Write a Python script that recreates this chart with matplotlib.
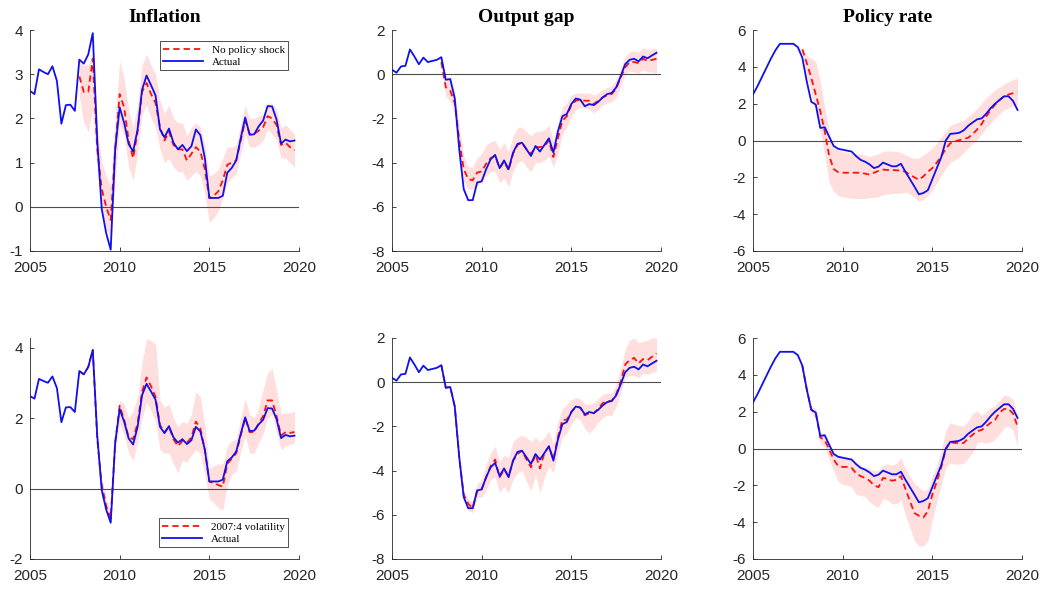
import numpy as np
import matplotlib.pyplot as plt

plt.rcParams['axes.unicode_minus'] = False

quarters = 2005 + np.arange(60) / 4
cf_quarters = quarters[11:]  # counterfactuals start 2007:4

# actual series, 2005Q1-2019Q4
inflation_actual = [2.62, 2.55, 3.11, 3.05, 3.00, 3.18, 2.85, 1.88, 2.30, 2.31, 2.17, 3.33,
                    3.24, 3.45, 3.93, 1.50, -0.05, -0.60, -0.97, 1.30, 2.25, 1.90, 1.42, 1.25,
                    1.75, 2.65, 2.97, 2.75, 2.52, 1.75, 1.57, 1.77, 1.45, 1.30, 1.40, 1.26,
                    1.37, 1.75, 1.62, 1.10, 0.20, 0.20, 0.20, 0.25, 0.77, 0.88, 1.05, 1.55,
                    2.02, 1.63, 1.64, 1.82, 1.95, 2.28, 2.27, 1.97, 1.43, 1.52, 1.48, 1.50]
output_actual = [0.20, 0.07, 0.35, 0.38, 1.12, 0.80, 0.45, 0.75, 0.55, 0.60, 0.65, 0.77,
                 -0.25, -0.22, -1.10, -3.40, -5.20, -5.70, -5.70, -4.90, -4.85, -4.30, -3.85, -3.65,
                 -4.25, -3.90, -4.30, -3.55, -3.15, -3.10, -3.40, -3.70, -3.25, -3.50, -3.20, -2.90,
                 -3.55, -2.60, -1.90, -1.80, -1.35, -1.10, -1.15, -1.45, -1.35, -1.40, -1.25, -1.05,
                 -0.90, -0.85, -0.60, -0.10, 0.45, 0.65, 0.70, 0.58, 0.80, 0.72, 0.85, 0.97]
policy_actual = [2.50, 2.95, 3.45, 3.95, 4.45, 4.90, 5.25, 5.25, 5.25, 5.25, 5.07, 4.50,
                 3.20, 2.10, 1.95, 0.68, 0.72, 0.20, -0.30, -0.45, -0.50, -0.55, -0.60, -0.85,
                 -1.05, -1.15, -1.30, -1.50, -1.42, -1.20, -1.30, -1.40, -1.40, -1.26, -1.70, -2.10,
                 -2.50, -2.92, -2.85, -2.70, -2.10, -1.50, -0.90, 0.00, 0.36, 0.38, 0.42, 0.55,
                 0.80, 0.98, 1.15, 1.20, 1.45, 1.75, 2.00, 2.20, 2.40, 2.40, 2.15, 1.66]

# no policy shock, 2007Q4-2019Q4
infl_noshock = [2.95, 2.60, 2.60, 3.35, 1.30, 0.40, 0.00, -0.30, 1.30, 2.55, 2.25, 1.50, 1.10,
                1.70, 2.60, 2.80, 2.55, 2.35, 1.80, 1.50, 1.70, 1.40, 1.30, 1.30, 1.05,
                1.20, 1.35, 1.25, 0.85, 0.20, 0.25, 0.35, 0.60, 0.95, 1.00, 1.05, 1.50,
                1.95, 1.65, 1.65, 1.72, 1.80, 2.05, 2.00, 1.85, 1.40, 1.45, 1.35, 1.28]
infl_noshock_hi = [3.30, 3.20, 3.20, 3.50, 1.80, 1.00, 0.70, 0.50, 2.00, 3.30, 2.90, 2.20, 1.80,
                   2.30, 3.20, 3.45, 3.20, 3.00, 2.40, 2.10, 2.30, 2.00, 1.90, 1.90, 1.60,
                   1.80, 1.90, 1.80, 1.40, 0.70, 0.75, 0.85, 1.10, 1.35, 1.35, 1.40, 1.85,
                   2.30, 2.00, 2.00, 2.05, 2.10, 2.35, 2.35, 2.20, 1.80, 1.85, 1.75, 1.65]
infl_noshock_lo = [2.50, 1.90, 1.70, 2.20, 0.80, -0.10, -0.50, -0.70, 0.60, 1.90, 1.60, 0.90, 0.60,
                   1.20, 2.10, 2.30, 2.00, 1.80, 1.30, 1.00, 1.10, 0.90, 0.80, 0.80, 0.60,
                   0.70, 0.80, 0.70, 0.30, -0.35, -0.25, -0.10, 0.20, 0.55, 0.65, 0.75, 1.20,
                   1.65, 1.35, 1.35, 1.40, 1.50, 1.75, 1.65, 1.50, 1.10, 1.10, 1.00, 0.90]

gap_noshock = [0.55, -0.60, -0.75, -1.30, -3.00, -4.30, -4.75, -4.80, -4.45, -4.40, -4.05, -3.80, -3.70,
               -4.25, -3.95, -4.35, -3.60, -3.20, -3.10, -3.40, -3.60, -3.30, -3.30, -3.25, -3.00,
               -3.75, -2.90, -2.10, -1.90, -1.40, -1.20, -1.15, -1.20, -1.20, -1.35, -1.20, -1.05,
               -0.95, -0.90, -0.65, -0.15, 0.30, 0.55, 0.55, 0.50, 0.70, 0.60, 0.65, 0.70]
gap_noshock_hi = [0.85, -0.20, -0.30, -0.80, -2.40, -3.70, -4.20, -4.20, -3.80, -3.60, -3.20, -3.05, -3.00,
                  -3.40, -3.10, -3.50, -2.80, -2.40, -2.40, -2.60, -2.80, -2.60, -2.60, -2.50, -2.30,
                  -3.00, -2.20, -1.50, -1.30, -0.95, -0.85, -0.85, -0.85, -0.85, -0.95, -0.85, -0.70,
                  -0.60, -0.55, -0.25, 0.25, 0.80, 1.00, 1.05, 1.00, 1.20, 1.10, 1.15, 1.15]
gap_noshock_lo = [0.30, -1.00, -1.20, -1.80, -3.60, -4.90, -5.20, -5.20, -5.00, -4.90, -4.60, -4.40, -4.40,
                  -4.90, -4.70, -5.10, -4.40, -4.00, -3.90, -4.20, -4.40, -4.00, -4.00, -3.90, -3.70,
                  -4.20, -3.60, -2.70, -2.40, -1.90, -1.60, -1.50, -1.55, -1.60, -1.75, -1.60, -1.40,
                  -1.30, -1.25, -1.05, -0.55, 0.00, 0.15, 0.10, 0.05, 0.20, 0.10, 0.10, 0.05]

rate_noshock = [4.95, 4.20, 3.40, 2.50, 1.60, 0.50, -0.85, -1.55, -1.72, -1.75, -1.75, -1.75, -1.75,
                -1.75, -1.80, -1.85, -1.75, -1.65, -1.58, -1.60, -1.60, -1.62, -1.63, -1.70, -1.86,
                -2.00, -2.13, -1.95, -1.70, -1.50, -1.20, -0.85, -0.45, -0.15, -0.05, 0.02, 0.08,
                0.15, 0.35, 0.60, 0.90, 1.30, 1.65, 1.95, 2.20, 2.40, 2.50, 2.57, 2.60]
rate_noshock_hi = [5.10, 4.60, 4.45, 4.30, 3.20, 1.80, 0.50, -0.40, -0.50, -0.60, -0.65, -0.70, -0.72,
                   -0.73, -0.80, -0.87, -0.80, -0.73, -0.60, -0.56, -0.58, -0.60, -0.65, -0.78, -0.90,
                   -0.96, -0.95, -0.80, -0.60, -0.40, -0.15, 0.20, 0.50, 0.80, 0.94, 1.00, 1.10,
                   1.30, 1.50, 1.75, 2.03, 2.30, 2.54, 2.75, 2.90, 3.05, 3.20, 3.30, 3.40]
rate_noshock_lo = [4.80, 3.50, 2.60, 1.60, 0.50, -0.80, -2.30, -2.75, -3.00, -3.05, -3.10, -3.15, -3.15,
                   -3.15, -3.15, -3.10, -3.10, -3.05, -2.95, -2.90, -2.88, -2.87, -2.85, -2.80, -2.90,
                   -3.10, -3.30, -3.20, -3.00, -2.70, -2.30, -1.90, -1.50, -1.20, -1.05, -0.90, -0.65,
                   -0.40, -0.15, 0.05, 0.35, 0.67, 0.95, 1.20, 1.45, 1.67, 1.78, 1.85, 1.95]

# 2007:4 volatility, 2007Q4-2019Q4
infl_vol = [3.33, 3.24, 3.45, 3.93, 1.40, 0.10, -0.50, -0.85, 1.30, 2.35, 1.95, 1.45, 1.40,
            1.85, 2.75, 3.15, 2.90, 2.60, 1.80, 1.60, 1.75, 1.40, 1.20, 1.35, 1.30,
            1.45, 1.90, 1.70, 1.10, 0.20, 0.15, 0.10, 0.05, 0.70, 0.85, 1.00, 1.50,
            2.00, 1.60, 1.60, 1.85, 2.05, 2.50, 2.50, 2.05, 1.50, 1.60, 1.58, 1.60]
infl_vol_hi = [3.33, 3.24, 3.45, 3.93, 1.50, 0.30, -0.30, -0.70, 1.50, 2.50, 2.40, 2.00, 2.20,
               2.60, 3.60, 4.25, 4.20, 4.10, 2.50, 2.30, 2.40, 2.00, 1.75, 1.90, 1.85,
               2.10, 2.75, 2.60, 1.80, 0.55, 0.65, 0.70, 0.70, 1.20, 1.35, 1.40, 2.00,
               2.55, 2.10, 2.00, 2.30, 2.80, 3.30, 3.40, 2.80, 2.10, 2.15, 2.15, 2.20]
infl_vol_lo = [3.33, 3.24, 3.45, 3.93, 1.30, -0.10, -0.70, -1.00, 1.10, 1.85, 1.50, 1.00, 0.80,
               1.30, 2.00, 2.45, 2.20, 1.90, 1.10, 1.00, 1.00, 0.70, 0.45, 0.80, 0.75,
               0.95, 1.10, 1.00, 0.40, -0.30, -0.40, -0.55, -0.60, 0.10, 0.40, 0.50, 1.05,
               1.50, 1.00, 1.00, 1.30, 1.55, 2.00, 2.10, 1.60, 1.10, 1.20, 1.25, 1.30]

gap_vol = [0.77, -0.25, -0.22, -1.10, -3.40, -5.10, -5.50, -5.70, -4.90, -4.85, -4.30, -3.80, -3.50,
           -4.30, -3.95, -4.25, -3.55, -3.25, -3.10, -3.50, -3.85, -3.25, -3.90, -3.20, -2.90,
           -3.50, -2.50, -1.70, -1.70, -1.35, -1.10, -1.15, -1.50, -1.40, -1.40, -1.20, -0.95,
           -0.85, -0.85, -0.55, 0.00, 0.80, 1.00, 1.10, 0.85, 1.05, 1.00, 1.15, 1.30]
gap_vol_hi = [0.77, -0.25, -0.22, -1.10, -3.30, -4.90, -5.30, -5.40, -4.60, -4.40, -3.70, -3.20, -2.90,
              -3.60, -3.30, -3.40, -2.70, -2.50, -2.40, -2.50, -2.70, -2.50, -2.70, -2.50, -2.20,
              -2.80, -1.80, -1.20, -1.00, -0.80, -0.70, -0.75, -1.00, -1.00, -0.95, -0.75, -0.55,
              -0.50, -0.50, -0.10, 0.60, 1.50, 1.90, 2.00, 1.80, 1.85, 1.90, 2.00, 2.00]
gap_vol_lo = [0.77, -0.25, -0.22, -1.10, -3.50, -5.30, -5.80, -5.90, -5.20, -5.20, -4.90, -4.40, -4.30,
              -5.00, -4.70, -5.00, -4.40, -4.10, -4.00, -4.50, -4.90, -4.20, -5.00, -4.30, -3.80,
              -4.10, -3.20, -2.50, -2.30, -1.90, -1.60, -1.70, -2.10, -2.30, -2.10, -1.80, -1.60,
              -1.50, -1.50, -1.10, -0.50, 0.20, 0.30, 0.30, 0.20, 0.40, 0.35, 0.45, 0.50]

rate_vol = [4.50, 3.20, 2.10, 1.95, 0.60, 0.45, -0.05, -0.60, -0.95, -1.00, -1.00, -1.05, -1.35,
            -1.50, -1.60, -1.75, -2.00, -2.10, -1.60, -1.65, -1.75, -1.70, -1.50, -2.20, -2.85,
            -3.50, -3.65, -3.75, -3.40, -2.50, -1.80, -1.00, -0.05, 0.35, 0.30, 0.30, 0.30,
            0.55, 0.75, 0.95, 1.00, 1.20, 1.40, 1.55, 1.95, 2.15, 2.15, 1.90, 1.20]
rate_vol_hi = [4.50, 3.20, 2.30, 2.15, 0.90, 0.80, 0.20, -0.20, -0.35, -0.45, -0.50, -0.60, -0.80,
               -0.95, -1.00, -1.10, -1.20, -1.20, -0.90, -0.85, -0.90, -0.80, -0.50, -1.10, -1.50,
               -1.90, -2.10, -2.30, -2.20, -1.50, -0.90, -0.10, 1.00, 1.40, 1.30, 1.25, 1.20,
               1.50, 1.90, 2.05, 1.80, 2.00, 2.20, 2.35, 2.60, 2.90, 2.85, 2.65, 1.80]
rate_vol_lo = [4.50, 3.20, 1.90, 1.60, 0.30, 0.10, -0.60, -1.20, -1.80, -1.95, -2.00, -2.10, -2.50,
               -2.55, -2.60, -2.90, -3.10, -3.20, -2.70, -2.80, -3.00, -3.00, -2.80, -3.60, -4.30,
               -5.00, -5.30, -5.30, -5.00, -3.90, -2.90, -2.00, -1.00, -0.80, -0.85, -0.85, -0.80,
               -0.50, -0.20, 0.30, 0.35, 0.30, 0.35, 0.50, 0.80, 1.15, 1.20, 1.00, 0.10]

titles = ['Inflation', 'Output gap', 'Policy rate']
actuals = [inflation_actual, output_actual, policy_actual]
scenarios = [
    ('No policy shock', [(infl_noshock, infl_noshock_lo, infl_noshock_hi),
                         (gap_noshock, gap_noshock_lo, gap_noshock_hi),
                         (rate_noshock, rate_noshock_lo, rate_noshock_hi)]),
    ('2007:4 volatility', [(infl_vol, infl_vol_lo, infl_vol_hi),
                           (gap_vol, gap_vol_lo, gap_vol_hi),
                           (rate_vol, rate_vol_lo, rate_vol_hi)]),
]
ylims = [[(-1, 4), (-8, 2), (-6, 6)], [(-2, 4.27), (-8, 2), (-6, 6)]]
yticks = [[range(-1, 5), range(-8, 3, 2), range(-6, 7, 2)],
          [range(-2, 5, 2), range(-8, 3, 2), range(-6, 7, 2)]]

W, H = 1045, 589
lefts = [30, 392, 753]
tops = [30, 338]

fig = plt.figure(figsize=(W / 100, H / 100), dpi=100)

for r, (label, series) in enumerate(scenarios):
    for c in range(3):
        ax = fig.add_axes([lefts[c] / W, 1 - (tops[r] + 221) / H, 269 / W, 221 / H])
        mid, lo, hi = series[c]
        ax.fill_between(cf_quarters, lo, hi, color=(1.0, 0.87, 0.87), lw=0)
        ax.axhline(0, color='0.3', lw=0.8)
        ax.plot(cf_quarters, mid, color='#ff1010', ls='--', lw=1.3, dashes=(3.5, 2.2), label=label)
        ax.plot(quarters, actuals[c], color='#1010ee', lw=1.3, label='Actual')

        ax.set_xlim(2005, 2020)
        ax.set_xticks([2005, 2010, 2015, 2020])
        ax.set_ylim(*ylims[r][c])
        ax.set_yticks(list(yticks[r][c]))
        for side in ['top', 'right']:
            ax.spines[side].set_visible(False)
        for side in ['left', 'bottom']:
            ax.spines[side].set_color('0.15')
            ax.spines[side].set_linewidth(0.6)
        ax.tick_params(direction='in', length=3, width=0.6, color='0.15',
                       labelcolor='#262626', labelsize=11)
        ax.tick_params(axis='x', pad=7)
        ax.tick_params(axis='y', pad=5)
        for t in ax.get_xticklabels() + ax.get_yticklabels():
            t.set_family('Liberation Sans')

        if r == 0:
            ax.set_title(titles[c], family='Liberation Serif', fontweight='bold',
                         fontsize=14, pad=6)
        if c == 0:
            if r == 0:
                loc, anchor = 'upper right', (0.96, 0.948)
            else:
                loc, anchor = 'lower right', (0.96, 0.055)
            ax.legend(loc=loc, bbox_to_anchor=anchor, fancybox=False, framealpha=1,
                      edgecolor='0.2', prop={'family': 'Liberation Serif', 'size': 8},
                      handlelength=3.6, borderpad=0.3, labelspacing=0.2, handletextpad=0.8,
                      borderaxespad=0).get_frame().set_linewidth(0.6)

fig.savefig('out.png', dpi=100)
